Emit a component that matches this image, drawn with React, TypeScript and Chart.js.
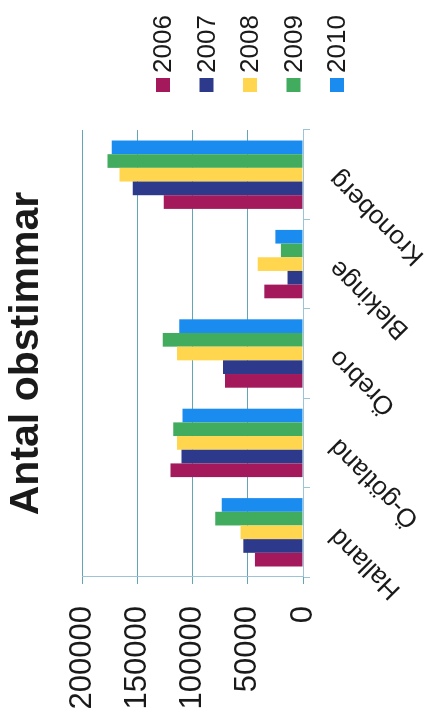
import React, { useEffect, useRef } from 'react';
import { Chart, registerables } from 'chart.js';

Chart.register(...registerables);

const titleText = 'Antal obstimmar';
const categories = ['Halland', 'Ö-götland', 'Örebro', 'Blekinge', 'Kronoberg'];
const years = ['2006', '2007', '2008', '2009', '2010'];
const values2006 = [43500, 120000, 70500, 35000, 126000];
const values2007 = [54000, 110000, 72500, 14000, 154000];
const values2008 = [56500, 114000, 114000, 41000, 166000];
const values2009 = [79500, 117500, 127000, 20000, 177000];
const values2010 = [73500, 109000, 112000, 25000, 173000];
const valueTicks = [0, 50000, 100000, 150000, 200000];
const seriesColors = ['#a3195b', '#2d3a8c', '#ffd64e', '#41ac5e', '#1a8cf0'];

const FONT = '"Liberation Sans", Arial, Helvetica, sans-serif';

const sideLegend = {
  id: 'sideLegend',
  afterDraw(chart: any) {
    const { ctx, chartArea } = chart;
    ctx.save();
    ctx.font = `26px ${FONT}`;
    ctx.textBaseline = 'middle';
    ctx.textAlign = 'left';
    chart.data.datasets.forEach((ds: any, i: number) => {
      const cy = chartArea.top + 81 + i * 43.5;
      const bx = chartArea.right + 38;
      ctx.fillStyle = ds.backgroundColor;
      ctx.fillRect(bx, cy - 7, 14, 14);
      ctx.fillStyle = '#1a1a1a';
      ctx.fillText(ds.label, bx + 19, cy + 1);
    });
    ctx.restore();
  },
};

export default function App() {
  const ref = useRef<HTMLCanvasElement>(null);

  useEffect(() => {
    const series = [values2006, values2007, values2008, values2009, values2010];
    const chart = new Chart(ref.current as HTMLCanvasElement, {
      type: 'bar',
      data: {
        labels: categories,
        datasets: series.map((vals, i) => ({
          label: years[i],
          data: vals,
          backgroundColor: seriesColors[i],
          borderWidth: 0,
          categoryPercentage: 0.765,
          barPercentage: 1,
        })),
      },
      options: {
        responsive: false,
        animation: false,
        layout: { padding: { left: 0, right: 130, top: 0, bottom: 0 } },
        plugins: {
          legend: { display: false },
          tooltip: { enabled: false },
          title: {
            display: true,
            text: titleText,
            fullSize: false,
            color: '#1a1a1a',
            font: { family: FONT, size: 41, weight: 'bold' },
            padding: { top: 2, bottom: 30.8 },
          },
        },
        scales: {
          x: {
            grid: {
              display: true,
              drawOnChartArea: false,
              drawTicks: true,
              tickLength: 7,
              color: '#9cc3d6',
              offset: true,
            },
            border: { display: true, color: '#9cc3d6' },
            ticks: {
              minRotation: 45,
              maxRotation: 45,
              autoSkip: false,
              padding: 13,
              color: '#1a1a1a',
              font: { family: FONT, size: 26 },
            },
            afterFit: (s: any) => {
              s.height = 125;
            },
          },
          y: {
            min: 0,
            max: 200000,
            afterBuildTicks: (s: any) => {
              s.ticks = valueTicks.map((v) => ({ value: v }));
            },
            grid: { color: '#62a5b5', tickLength: 7 },
            border: { color: '#9cc3d6' },
            ticks: {
              padding: 22,
              color: '#1a1a1a',
              font: { family: FONT, size: 31 },
              callback: (v: any) => String(v),
            },
            afterFit: (s: any) => {
              s.width = 147;
            },
          },
        },
      },
      plugins: [sideLegend],
    });
    return () => chart.destroy();
  }, []);

  return (
    <div
      style={{
        position: 'fixed',
        left: 0,
        top: 0,
        width: 724,
        height: 428,
        transform: 'translate(0px, 724px) rotate(-90deg)',
        transformOrigin: '0 0',
        background: '#fff',
      }}
    >
      <canvas ref={ref} width={724} height={428} style={{ display: 'block' }} />
    </div>
  );
}
